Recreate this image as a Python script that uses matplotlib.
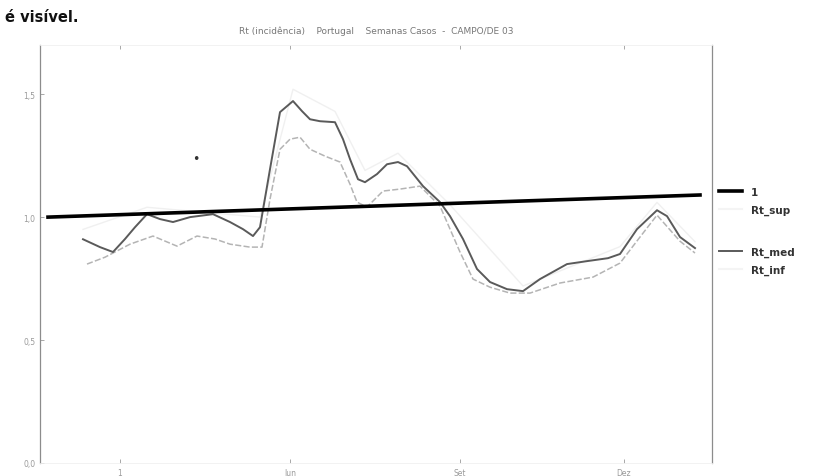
import matplotlib
matplotlib.use("Agg")
import matplotlib.pyplot as plt
from matplotlib.lines import Line2D

# dias desde o inicio do eixo
t_med = [21.5, 30, 36.5, 42.5, 47.5, 53.5, 60, 66.5, 75, 86.5, 95, 101.5, 106.5, 110,
         115, 120, 126.5, 131, 135, 140, 147.5, 151.5, 155, 159, 162.5, 168.5, 173.5,
         179, 183.5, 191.5, 200, 205, 211.5, 218.5, 225, 233.5, 241.5, 250, 263.5,
         273.5, 284, 290, 298.5, 308.5, 313.5, 320, 327.5]
rt_med = [0.91, 0.878, 0.858, 0.911, 0.959, 1.012, 0.992, 0.98, 1.0, 1.012, 0.98, 0.951,
          0.923, 0.959, 1.195, 1.427, 1.472, 1.431, 1.398, 1.39, 1.386, 1.317, 1.236,
          1.154, 1.142, 1.175, 1.215, 1.224, 1.207, 1.126, 1.061, 1.004, 0.911, 0.789,
          0.736, 0.707, 0.699, 0.748, 0.809, 0.821, 0.833, 0.85, 0.951, 1.028, 1.004,
          0.919, 0.874]

t_inf = [23.5, 32.5, 45, 56.5, 68.5, 78.5, 87.5, 95, 105, 111, 115, 120, 125, 130, 135,
         142.5, 150, 155, 158.5, 163.5, 171.5, 180, 190, 200, 210, 216.5, 225, 235, 245,
         260, 276.5, 290, 300, 308.5, 320, 327.5]
rt_inf = [0.809, 0.837, 0.89, 0.923, 0.882, 0.923, 0.911, 0.89, 0.878, 0.878, 1.073,
          1.276, 1.317, 1.325, 1.276, 1.248, 1.224, 1.134, 1.061, 1.041, 1.106, 1.114,
          1.126, 1.045, 0.858, 0.748, 0.715, 0.691, 0.691, 0.732, 0.756, 0.813, 0.919,
          1.008, 0.902, 0.854]

# quase invisivel no original
t_sup = [21.5, 53.5, 110, 126.5, 147.5, 162.5, 179, 205, 241.5, 290, 308.5, 327.5]
rt_sup = [0.95, 1.04, 1.0, 1.52, 1.43, 1.19, 1.26, 1.05, 0.72, 0.88, 1.06, 0.9]

# linha de referencia (inclinada pelo scan)
t_ref = [4, 330]
rt_ref = [1.0, 1.09]

y_ticks = [0.0, 0.5, 1.0, 1.5]
y_labels = ["0,0", "0,5", "1,0", "1,5"]
x_ticks = [40, 125, 210, 292]
x_labels = ["1", "Jun", "Set", "Dez"]

titulo = "Rt (incidência)    Portugal    Semanas Casos  -  CAMPO/DE 03"

fig = plt.figure(figsize=(8.16, 4.77), dpi=100)
ax = fig.add_axes([40 / 816, 13 / 477, 672 / 816, 418 / 477])

ax.plot(t_sup, rt_sup, color="#f0f0f0", lw=1.0, label="Rt_sup")
ax.plot(t_inf, rt_inf, color="#b4b4b4", lw=1.1, ls=(0, (4, 1.5)), label="Rt_inf")
ax.plot(t_med, rt_med, color="#5a5a5a", lw=1.4, label="Rt_med")
ax.plot(t_ref, rt_ref, color="black", lw=2.6, label="1")

ax.text(78, 1.24, "•", fontsize=9, color="#333333", ha="center", va="center")

ax.set_xlim(0, 336)
ax.set_ylim(0, 1.7)
ax.set_yticks(y_ticks)
ax.set_yticklabels(y_labels)
ax.set_xticks(x_ticks)
ax.set_xticklabels(x_labels)
ax.tick_params(axis="both", labelsize=5.5, colors="#9a9a9a", length=3, width=0.6)
ax.tick_params(top=True, direction="in")

for s in ["left", "right"]:
    ax.spines[s].set_color("#8c8c8c")
    ax.spines[s].set_linewidth(0.9)
for s in ["top", "bottom"]:
    ax.spines[s].set_color("#f0f0f0")
    ax.spines[s].set_linewidth(0.6)

ax.set_title(titulo, fontsize=6.5, color="#777777", pad=9)

h = {l.get_label(): l for l in ax.get_lines()}
leg1 = ax.legend([h["1"], Line2D([], [], color="#f4f4f4")], ["1", "Rt_sup"],
                 loc="upper left", bbox_to_anchor=(1.0, 0.678), frameon=False,
                 fontsize=7.5, handlelength=2.2, labelspacing=0.75,
                 borderaxespad=0.3)
for txt in leg1.get_texts():
    txt.set_fontweight("bold")
    txt.set_color("#333333")
ax.add_artist(leg1)
leg2 = ax.legend([h["Rt_med"], Line2D([], [], color="#f4f4f4")], ["Rt_med", "Rt_inf"],
                 loc="upper left", bbox_to_anchor=(1.0, 0.535), frameon=False,
                 fontsize=7.5, handlelength=2.2, labelspacing=0.75,
                 borderaxespad=0.3)
for txt in leg2.get_texts():
    txt.set_fontweight("bold")
    txt.set_color("#333333")

fig.text(5 / 816, 1 - 18 / 477, "é visível.", fontsize=10.5, fontweight="bold",
         va="center", ha="left", color="#111111")

fig.savefig("out.png", dpi=100)
